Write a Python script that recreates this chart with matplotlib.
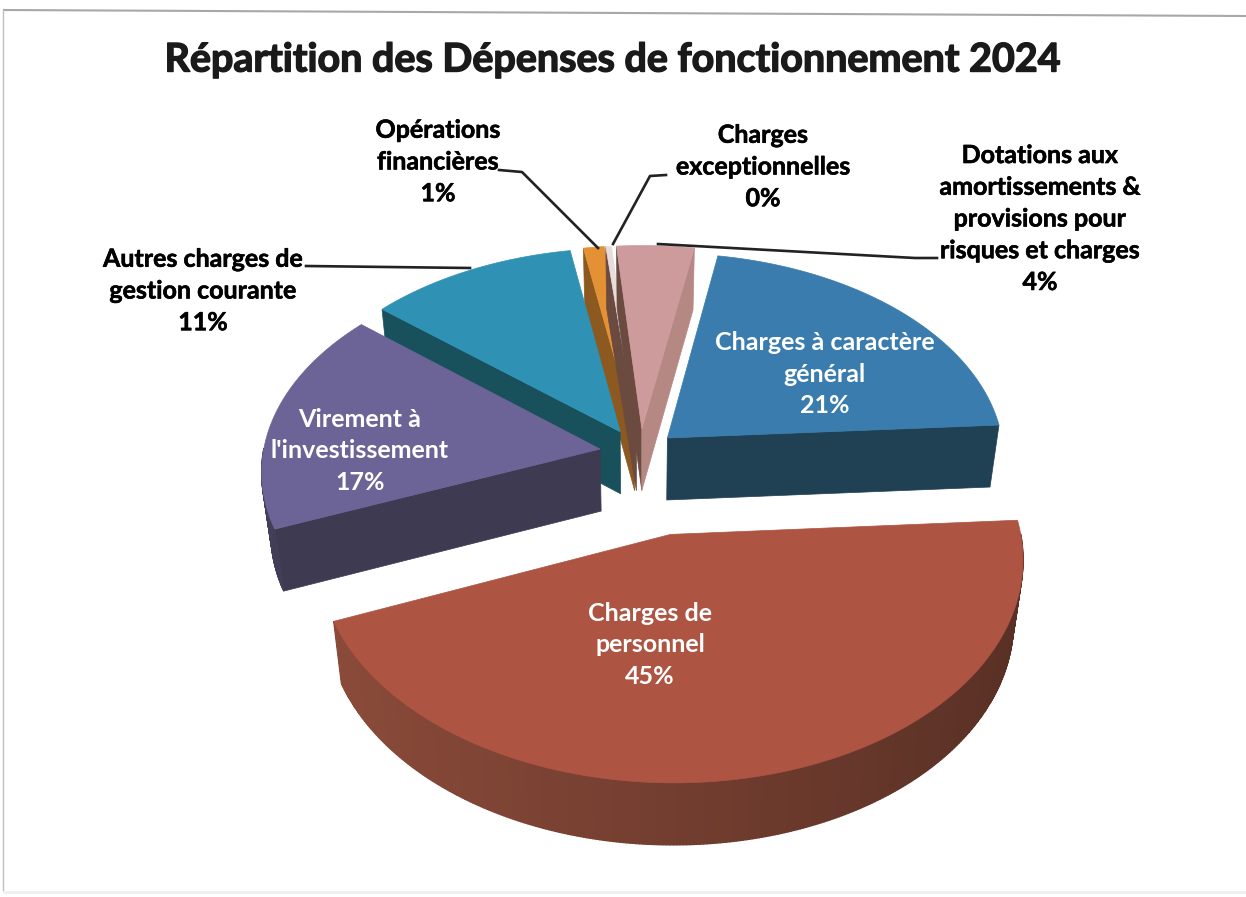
import numpy as np
import matplotlib
matplotlib.use("Agg")
import matplotlib.pyplot as plt
import matplotlib.patheffects as pe
from matplotlib.colors import to_rgb

# clockwise from "Charges a caractere general"
names = ["Charges à caractère\ngénéral", "Charges de\npersonnel", "Virement à\nl'investissement",
         "Autres charges de\ngestion courante", "Opérations\nfinancières", "Charges\nexceptionnelles",
         "Dotations aux\namortissements &\nprovisions pour\nrisques et charges"]
values = [21.2, 44.9, 17.3, 11.1, 1.1, 0.3, 4.1]
percents = ["21%", "45%", "17%", "11%", "1%", "0%", "4%"]

explode = [0.11, 0.39, 0.12, 0.12, 0.12, 0.12, 0.12]
top_colors = ["#3a7cad", "#ad5443", "#6c6496", "#2f92b4", "#e39134", "#e8dcdc", "#cd9b9c"]
side_colors = ["#1f4153", "#824636", "#3e3a52", "#18505c", "#8c5a20", "#6b4a40", "#b58884"]
hi_colors = ["#1f4153", "#824636", "#3e3a52", "#18505c", "#8c5a20", "#6b4a40", "#6b4a40"]
label_colors = ["white", "white", "white", "black", "black", "black", "black"]
label_pos = [(825, 374), (650, 645), (360, 451), (203, 291), (438, 162), (763, 167), (1040, 219)]
leaders = [None, None, None,
           [(306, 266), (470, 268)],
           [(499, 170), (522, 172), (598, 248)],
           [(666, 175), (650, 176), (613, 244)],
           [(937, 258), (915, 258), (658, 244)]]

CX, CY, A, B, P, DEPTH, SQUEEZE = 640, 453, 337, 206, 0.1, 62, 0.975
START = 80.0


def project(u, v, low=False):
    s = 1 / (1 + P * v)
    x, y = CX + A * u * s, CY - B * v * s
    if low:
        return CX + (x - CX) * SQUEEZE, y + DEPTH
    return x, y


def shade(col, k):
    return tuple(min(1, c * k) for c in to_rgb(col))


fig, ax = plt.subplots(figsize=(12.46, 8.97), dpi=100)
ax.set_position([0, 0, 1, 1])
ax.set_xlim(0, 1246)
ax.set_ylim(897, 0)
ax.axis("off")

# scanned page frame
ax.plot([4, 1246], [10, 16], color="#a8a8a8", lw=1.5)
ax.plot([3, 3], [10, 890], color="#c0c0c0", lw=1)
ax.plot([4, 1246], [892, 892], color="#f0f0f0", lw=2)

fracs = np.array(values) / sum(values) * 360
edges = START - np.concatenate([[0], np.cumsum(fracs)])
order = [4, 5, 6, 3, 0, 2, 1]

for i in order:
    hi, lo = np.radians(edges[i]), np.radians(edges[i + 1])
    mid = (hi + lo) / 2
    ox, oy = explode[i] * np.cos(mid), explode[i] * np.sin(mid)
    th = np.linspace(hi, lo, max(int(fracs[i]) * 2, 6))
    ux, uy = ox + np.cos(th), oy + np.sin(th)
    tx, ty = project(ox, oy)
    px, py = project(ux, uy)
    bx, by = project(ux, uy, True)
    t2x, t2y = project(ox, oy, True)

    # radial cut faces, only those turned to the viewer
    if np.cos(hi) < 0:
        ax.fill([tx, px[0], bx[0], t2x], [ty, py[0], by[0], t2y], color=hi_colors[i], lw=0.5, zorder=1)
    if np.cos(lo) > 0:
        ax.fill([tx, px[-1], bx[-1], t2x], [ty, py[-1], by[-1], t2y], color=side_colors[i], lw=0.5, zorder=1)

    # outer wall, in strips so it gets the shading across
    for j in range(len(th) - 1):
        if np.sin(th[j]) + np.sin(th[j + 1]) < 0:
            k = 0.88 + 0.2 * np.clip(-np.cos((th[j] + th[j + 1]) / 2), -1, 1)
            ax.fill([px[j], px[j + 1], bx[j + 1], bx[j]], [py[j], py[j + 1], by[j + 1], by[j]],
                    color=shade(side_colors[i], k), lw=1, zorder=1)

    ax.fill(np.r_[tx, px], np.r_[ty, py], color=top_colors[i], lw=0.5, zorder=1)

for i, (x, y) in enumerate(label_pos):
    t = ax.text(x, y, names[i] + "\n" + percents[i], color=label_colors[i], ha="center", va="center",
                family="Lato", weight="bold", fontsize=18, linespacing=1.46, zorder=3)
    if label_colors[i] == "black":
        t.set_path_effects([pe.withStroke(linewidth=0.4, foreground="black")])
    if leaders[i]:
        ax.plot(*zip(*leaders[i]), color="#222222", lw=1.9, zorder=2)

title = ax.text(612, 60, "Répartition des Dépenses de fonctionnement 2024", ha="center", va="center",
                family="Lato", weight="bold", fontsize=28.4, color="#1a1a1a")
title.set_path_effects([pe.withStroke(linewidth=1.0, foreground="#1a1a1a")])

fig.savefig("out.png", dpi=100)
